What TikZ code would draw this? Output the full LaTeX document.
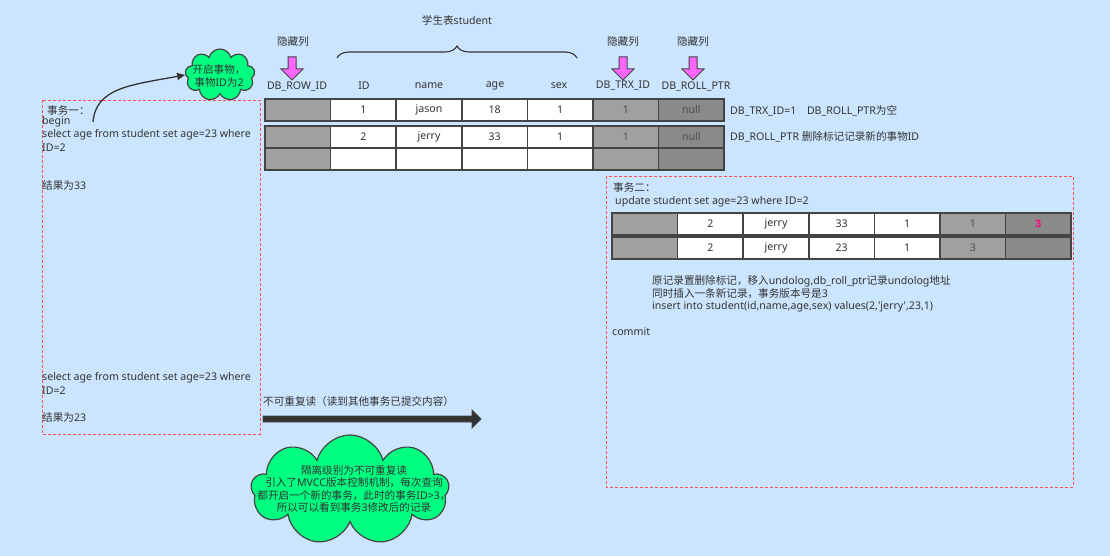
\documentclass[tikz,border=0pt]{standalone}
\usepackage{fontspec}
\setmainfont{Noto Sans}[Ligatures=TeXOff]
\newfontfamily\cjk{Noto Sans CJK SC}[Ligatures=TeXOff]
\newfontfamily\bnum{Liberation Sans}
\newcommand\zh[1]{{\cjk #1}}
\usetikzlibrary{shapes.symbols,decorations.pathreplacing,arrows.meta}
\definecolor{bg}{HTML}{CCE5FF}
\definecolor{txt}{HTML}{333333}
\definecolor{bdr}{HTML}{444444}
\definecolor{lg}{HTML}{A0A0A0}
\definecolor{dg}{HTML}{8A8A8A}
\definecolor{gtxt}{HTML}{505050}
\definecolor{mag}{HTML}{FF66FF}
\definecolor{hot}{HTML}{FF0080}
\definecolor{cloudg}{HTML}{00FF80}
\definecolor{dred}{HTML}{FF5050}
\newcommand\mkrow[9]{%
  \node[cw,fill=lg,text=gtxt] (#1-1) at (#2) {#3};
  \node[cw] (#1-2) at (#1-1.north east) {#4};
  \node[cw] (#1-3) at (#1-2.north east) {#5};
  \node[cw] (#1-4) at (#1-3.north east) {#6};
  \node[cw] (#1-5) at (#1-4.north east) {#7};
  \node[cw,fill=lg,text=gtxt] (#1-6) at (#1-5.north east) {#8};
  \node[cw,fill=dg,text=gtxt] (#1-7) at (#1-6.north east) {#9};
}
\newcommand\magarrow[1]{% x
  \fill[mag,draw=bdr,line width=1pt] (#1-4,57) -- (#1+4,57) -- (#1+4,69) -- (#1+11,69) -- (#1,80) -- (#1-11,69) -- (#1-4,69) -- cycle;
}
\begin{document}
\begin{tikzpicture}[x=1pt,y=-1pt,
  f/.style={font=\fontsize{10.6}{12.6}\selectfont},
  lbl/.style={f,inner sep=0,anchor=west,text=txt},
  hd/.style={f,inner sep=0,anchor=center,text=txt},
  cw/.style={f,draw=bdr,line width=1.5pt,fill=white,text=txt,minimum width=65.6pt,minimum height=22pt,inner sep=0,outer sep=0,anchor=north west},
  dbox/.style={draw=dred,line width=0.9pt,dash pattern=on 3pt off 2pt},
  cl/.style={cloud,cloud ignores aspect,draw=bdr,line width=1.2pt,fill=cloudg,inner sep=0}
]
\fill[bg] (0,0) rectangle (1110,556);
\useasboundingbox (0,0) rectangle (1110,556);

% title and brace
\node[hd] (title) at (457,20) {\zh{学生表}student};
\draw[txt,line width=1.1pt,decorate,decoration={brace,amplitude=12pt}] (337,58) -- (577,58);

% hidden column labels and arrows
\node[hd] (h1) at (293,42) {\zh{隐藏列}};
\node[hd] (h2) at (623,42) {\zh{隐藏列}};
\node[hd] (h3) at (693,42) {\zh{隐藏列}};
\magarrow{292}
\magarrow{623}
\magarrow{693}

% column headers
\node[hd] (c1) at (297,86) {DB\_ROW\_ID};
\node[hd] (c2) at (364,86) {ID};
\node[hd] (c3) at (429,86) {name};
\node[hd] (c4) at (495,86) {age};
\node[hd] (c5) at (559,86) {sex};
\node[hd] (c6) at (623,86) {DB\_TRX\_ID};
\node[hd] (c7) at (696,86) {DB\_ROLL\_PTR};

% table 1
\mkrow{ta}{265,99}{}{1}{jason}{18}{1}{1}{null}
\mkrow{tb}{265,126}{}{2}{jerry}{33}{1}{1}{null}
\mkrow{tc}{265,148}{}{}{}{}{}{}{}

\node[lbl] (n1) at (730,111) {DB\_TRX\_ID=1\quad DB\_ROLL\_PTR\zh{为空}};
\node[lbl] (n2) at (730,137) {DB\_ROLL\_PTR \zh{删除标记记录新的事物}ID};

% cloud 1
\node[cl,cloud puffs=9,minimum width=70pt,minimum height=52pt] (cl1) at (220,75) {};
\node[f,text=txt,align=center,inner sep=0] (cl1t) at (219,76) {\zh{开启事物，}\\\zh{事物}ID\zh{为}2};
\coordinate (st) at (93,122);
\draw[txt,line width=1.3pt,-{Triangle[length=8pt,width=7pt]}] (st) .. controls (96,88) and (130,85) .. (cl1.west);

% left dashed box
\draw[dbox] (42,100) rectangle (260,434);
\node[lbl] (l1) at (47,110) {\zh{事务一：}};
\node[lbl] (l2) at (42,122) {begin};
\node[lbl] (l3) at (42,135) {select age from student set age=23 where};
\node[lbl] (l4) at (42,148) {ID=2};
\node[lbl] (l5) at (42,185) {\zh{结果为}33};
\node[lbl] (l6) at (42,378) {select age from student set age=23 where};
\node[lbl] (l7) at (42,391) {ID=2};
\node[lbl] (l8) at (42,417) {\zh{结果为}23};

% thick arrow
\node[lbl] (al) at (263,401) {\zh{不可重复读（读到其他事务已提交内容）}};
\coordinate (a0) at (263,419);
\coordinate (a1) at (481,419);
\fill[txt,draw=bdr,line width=0.8pt] (a0) ++(0,-3) -- (472,416) -- (472,410) -- (a1) -- (472,428) -- (472,422) -- (263,422) -- cycle;

% cloud 2
\node[cl,cloud puffs=9,minimum width=198pt,minimum height=110pt] (cl2) at (350,490) {};
\node[f,text=txt,align=center,inner sep=0] (cl2t) at (354,489) {\zh{隔离级别为不可重复读}\\\zh{引入了}MVCC\zh{版本控制机制，每次查询}\\\zh{都开启一个新的事务，此时的事务}ID>3\zh{，}\\\zh{所以可以看到事务}3\zh{修改后的记录}};

% right dashed box
\draw[dbox] (606,176) rectangle (1073,487);
\node[lbl] (r1) at (613,187) {\zh{事务二：}};
\node[lbl] (r2) at (615,202) {update student set age=23 where ID=2};
\mkrow{td}{612,213}{}{2}{jerry}{33}{1}{1}{\textcolor{hot}{\bnum\bfseries 3}}
\mkrow{te}{612,237}{}{2}{jerry}{23}{1}{3}{}
\node[lbl] (r3) at (652,281) {\zh{原记录置删除标记，移入}undolog,db\_roll\_ptr\zh{记录}undolog\zh{地址}};
\node[lbl] (r4) at (652,294) {\zh{同时插入一条新记录，事务版本号是}3};
\node[lbl] (r5) at (652,307) {insert into student(id,name,age,sex) values(2,'jerry',23,1)};
\node[lbl] (r6) at (612,332) {commit};
\end{tikzpicture}
\end{document}
